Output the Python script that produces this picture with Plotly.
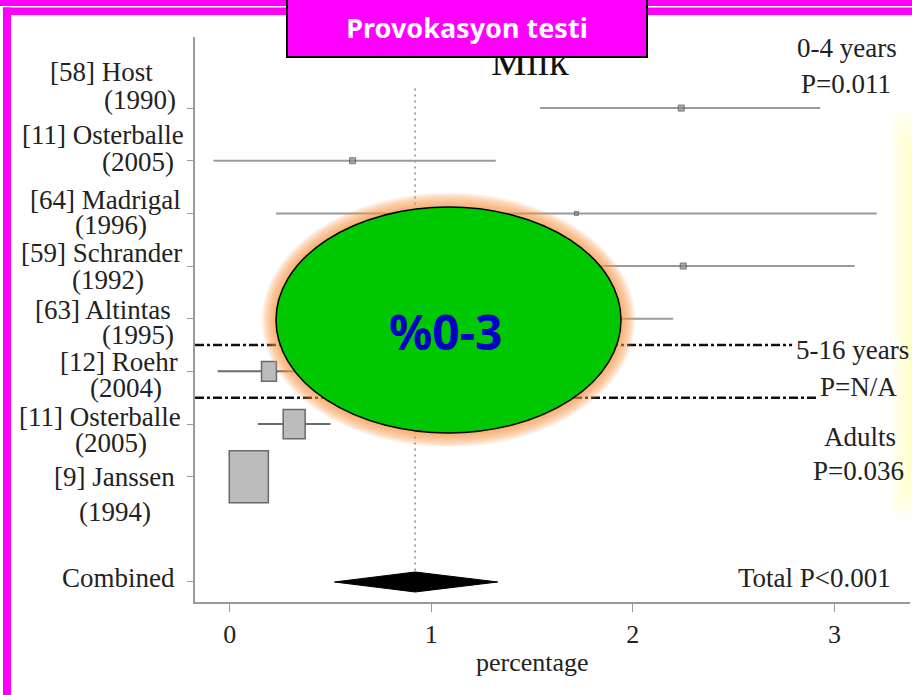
import plotly.graph_objects as go

# ---------------- data ----------------
studies = ["[58] Host", "[11] Osterballe", "[64] Madrigal", "[59] Schrander",
           "[63] Altintas", "[12] Roehr", "[11] Osterballe", "[9] Janssen"]
years = ["(1990)", "(2005)", "(1996)", "(1992)", "(1995)", "(2004)", "(2005)", "(1994)"]
estimate = [2.24, 0.61, 1.72, 2.25, 1.30, 0.195, 0.32, 0.095]
ci_low = [1.54, -0.08, 0.23, 1.40, 0.45, -0.06, 0.14, 0.00]
ci_high = [2.93, 1.32, 3.21, 3.10, 2.20, 0.55, 0.50, 0.19]
age_group = ["0-4", "0-4", "0-4", "0-4", "0-4", "5-16", "adult", "adult"]
weight = [None, None, None, None, None, 7.4, 10.9, 19.4]   # box size (%), weighted studies

combined_est = 0.92
combined_low = 0.52
combined_high = 1.33

group_labels = [("0-4 years", "P=0.011"), ("5-16 years", "P=N/A"), ("Adults", "P=0.036")]
total_label = "Total P<0.001"
x_ticks = [0, 1, 2, 3]
x_title = "percentage"
panel_title = "Milk"
banner = "Provokasyon testi"
callout = "%0-3"

# ---------------- geometry ----------------
W, H = 912, 695
ML, MR, MT, MB = 195, 2, 37, 93
PW, PH = W - ML - MR, H - MT - MB

def px(x):
    return (x - ML) / PW

def py(y):
    return (H - MB - y) / PH

rows = list(range(10, 2, -1))      # study rows, top to bottom
row_combined = 1
X_RANGE = [-0.172, 3.375]
Y_RANGE = [0.62, 11.35]
px_per_x = PW / (X_RANGE[1] - X_RANGE[0])
px_per_y = PH / (Y_RANGE[1] - Y_RANGE[0])

SERIF = "Liberation Serif"
INK = "#222222"

fig = go.Figure()

# reference line at the combined estimate
fig.add_trace(go.Scatter(x=[combined_est, combined_est], y=[1.22, 10.45], mode="lines",
                         line=dict(color="#8a8a8a", width=1.5, dash="2px,4px"),
                         hoverinfo="skip", showlegend=False))

# confidence intervals
for i, r in enumerate(rows):
    col = "#9a9a9a" if weight[i] is None else "#6a6a6a"
    fig.add_trace(go.Scatter(x=[ci_low[i], ci_high[i]], y=[r, r], mode="lines",
                             line=dict(color=col, width=2),
                             hoverinfo="skip", showlegend=False))

# unweighted point estimates
small = [i for i in range(len(rows)) if weight[i] is None]
fig.add_trace(go.Scatter(x=[estimate[i] for i in small], y=[rows[i] for i in small],
                         mode="markers",
                         marker=dict(symbol="square", size=[6, 6, 4, 6, 6][:len(small)],
                                     color="#8a8a8a", line=dict(color="#444", width=1)),
                         hoverinfo="skip", showlegend=False))

# age-group separators
fig.add_trace(go.Scatter(x=[X_RANGE[0], 2.79], y=[5.5, 5.5], mode="lines",
                         line=dict(color="#111", width=2.5, dash="9px,3px,3px,3px"),
                         hoverinfo="skip", showlegend=False))
fig.add_trace(go.Scatter(x=[X_RANGE[0], 2.91], y=[4.5, 4.5], mode="lines",
                         line=dict(color="#111", width=2.5, dash="9px,3px,3px,3px"),
                         hoverinfo="skip", showlegend=False))

# combined diamond
dh = 10 / px_per_y
fig.add_trace(go.Scatter(x=[combined_low, combined_est, combined_high, combined_est, combined_low],
                         y=[row_combined, row_combined + dh, row_combined,
                            row_combined - dh, row_combined],
                         mode="lines", fill="toself", fillcolor="#000000",
                         line=dict(color="#000000", width=1),
                         hoverinfo="skip", showlegend=False))

shapes = []

# weighted study boxes
for i, r in enumerate(rows):
    if weight[i] is None:
        continue
    wx = weight[i] / 100.0
    hy = wx * px_per_x * 1.33 / px_per_y
    shapes.append(dict(type="rect", xref="x", yref="y",
                       x0=estimate[i] - wx / 2, x1=estimate[i] + wx / 2,
                       y0=r - hy / 2, y1=r + hy / 2,
                       fillcolor="#bcbcbc", line=dict(color="#6a6a6a", width=1.5),
                       layer="above"))

# faint yellow haze on the right edge (layered for a soft gradient)
for k in range(8):
    shapes.append(dict(type="rect", xref="paper", yref="paper",
                       x0=px(892 + 2.5 * k), x1=px(914),
                       y0=py(520 - 6 * k), y1=py(110 + 6 * k),
                       fillcolor="rgba(255,255,140,0.07)", line=dict(width=0),
                       layer="above"))

# callout ellipse with soft orange glow
EX0, EX1, EY0, EY1 = 276, 621, 207, 433
for k in range(14, 0, -2):
    shapes.append(dict(type="circle", xref="paper", yref="paper",
                       x0=px(EX0 - k), x1=px(EX1 + k), y0=py(EY1 + k), y1=py(EY0 - k),
                       fillcolor="rgba(247,150,70,0.16)", line=dict(width=0), layer="above"))
shapes.append(dict(type="circle", xref="paper", yref="paper",
                   x0=px(EX0), x1=px(EX1), y0=py(EY1), y1=py(EY0),
                   fillcolor="#00c800", line=dict(color="#000000", width=1.5), layer="above"))

# magenta frame
MAG = "#ff00ff"
shapes.append(dict(type="rect", xref="paper", yref="paper", x0=px(-2), x1=px(914),
                   y0=py(6), y1=py(-2), fillcolor=MAG, line=dict(width=0), layer="above"))
shapes.append(dict(type="rect", xref="paper", yref="paper", x0=px(3), x1=px(914),
                   y0=py(15), y1=py(7.5), fillcolor=MAG, line=dict(width=0), layer="above"))
shapes.append(dict(type="rect", xref="paper", yref="paper", x0=px(3), x1=px(11),
                   y0=py(697), y1=py(7.5), fillcolor=MAG, line=dict(width=0), layer="above"))

annotations = []

def text(s, x, y, size=27, anchor="center", family=SERIF, color=INK):
    annotations.append(dict(text=s, xref="paper", yref="paper", x=px(x), y=py(y),
                            xanchor=anchor, yanchor="middle", showarrow=False,
                            font=dict(family=family, size=size, color=color)))

# study labels (name line, year line)
name_pos = [(101.5, 72), (103, 135), (105.5, 200), (101, 253),
            (102.5, 310), (119, 362), (100, 417), (114.5, 477)]
year_pos = [(140, 100), (137.5, 162), (110.5, 225), (107.5, 280),
            (137.5, 335), (125.5, 388), (111, 443), (115, 512)]
for i in range(len(studies)):
    text(studies[i], *name_pos[i])
    text(years[i], *year_pos[i])
text("Combined", 118, 578)

# group statistics
text(group_labels[0][0], 847, 48)
text(group_labels[0][1], 846, 84)
text(group_labels[1][0], 794, 350, anchor="left")
text(group_labels[1][1], 858, 387)
text(group_labels[2][0], 860, 437)
text(group_labels[2][1], 858, 471)
text(total_label, 814, 578)

# axis title
text(x_title, 532, 662, size=26)

# callout text
text("<b>" + callout + "</b>", 446, 331, size=48, family="Noto Sans", color="#0000c8")

# panel title, partly covered by the banner
text(panel_title, 530, 61, size=40, color="#111")

# banner
annotations.append(dict(text="<b>" + banner + "</b>", xref="paper", yref="paper",
                        x=px(467), y=py(27.5), xanchor="center", yanchor="middle",
                        showarrow=False, width=358, height=57,
                        bgcolor=MAG, bordercolor="#000000", borderwidth=2, borderpad=0,
                        font=dict(family="Noto Sans", size=27, color="#ffffff")))

fig.update_layout(
    width=W, height=H, autosize=False,
    margin=dict(l=ML, r=MR, t=MT, b=MB, pad=0),
    paper_bgcolor="#ffffff", plot_bgcolor="#ffffff",
    showlegend=False,
    shapes=shapes, annotations=annotations,
    xaxis=dict(range=X_RANGE, tickvals=x_ticks, ticktext=[str(t) for t in x_ticks],
               showline=True, linecolor="#9a9a9a", linewidth=2,
               ticks="outside", ticklen=8, tickcolor="#9a9a9a", tickwidth=1,
               showgrid=False, zeroline=False,
               tickfont=dict(family=SERIF, size=26, color=INK)),
    yaxis=dict(range=Y_RANGE, tickvals=rows + [row_combined],
               showticklabels=False,
               showline=True, linecolor="#9a9a9a", linewidth=1.5,
               ticks="outside", ticklen=6, tickcolor="#9a9a9a", tickwidth=1,
               showgrid=False, zeroline=False),
)

fig.write_html("out.html")
